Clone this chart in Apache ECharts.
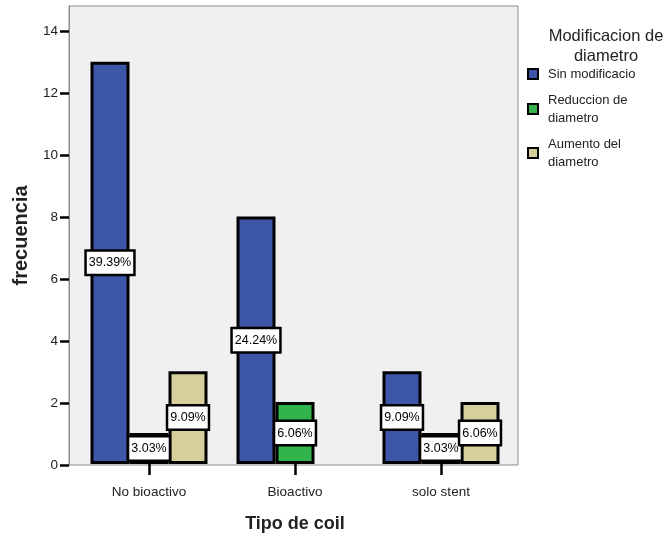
<!DOCTYPE html>
<html>
<head>
<meta charset="utf-8">
<script src="https://cdn.jsdelivr.net/npm/echarts@6/dist/echarts.min.js"></script>
<style>html,body{margin:0;padding:0;background:#fff}#c{width:665px;height:538px}</style>
</head>
<body>
<div id="c"></div>
<script>
var categories = ['No bioactivo', 'Bioactivo', 'solo stent'];
var seriesNames = ['Sin modificacio', 'Reduccion de\ndiametro', 'Aumento del\ndiametro'];
var sinModificacio = [13, 8, 3];
var reduccion = [1, 2, 1];
var aumento = [3, 0, 2];
var sinPct = ['39.39%', '24.24%', '9.09%'];
var reduccionPct = ['3.03%', '6.06%', '3.03%'];
var aumentoPct = ['9.09%', '', '6.06%'];
var yTicks = [0, 2, 4, 6, 8, 10, 12, 14];
var yMax = 14.8;

var colors = ['#3e56a8', '#30b44b', '#d6cf9c'];
var font = 'Liberation Sans, Arial, sans-serif';

function mk(name, vals, pcts, color) {
  return {
    name: name,
    type: 'bar',
    xAxisIndex: 1,
    yAxisIndex: 1,
    barWidth: 39,
    barGap: '0%',
    data: vals.map(function (v) { return v === 0 ? '-' : v; }),
    itemStyle: { color: color, borderColor: '#000', borderWidth: 3 },
    label: {
      show: true,
      position: 'inside',
      formatter: function (p) { return pcts[p.dataIndex]; },
      backgroundColor: '#fff',
      borderColor: '#000',
      borderWidth: 2.5,
      padding: [5, 2, 4, 2],
      fontSize: 12.5,
      fontFamily: font,
      color: '#000'
    }
  };
}

var chart = echarts.init(document.getElementById('c'));
chart.setOption({
  animation: false,
  backgroundColor: '#fff',
  title: {
    text: 'Modificacion de\ndiametro',
    left: 601,
    textAlign: 'center',
    top: 21,
    textStyle: { fontSize: 16.5, fontWeight: 'normal', lineHeight: 20, color: '#222', fontFamily: font }
  },
  legend: {
    orient: 'vertical',
    left: 522,
    top: 60,
    itemWidth: 10,
    itemHeight: 10,
    itemGap: 8,
    icon: 'rect',
    data: seriesNames,
    textStyle: { fontSize: 13, lineHeight: 18, color: '#222', fontFamily: font, padding: [0, 0, 0, 5] }
  },
  grid: [
    { left: 69, right: 147, top: 6, bottom: 73, show: true, backgroundColor: '#f0f0f0', borderColor: '#8c8c8c', borderWidth: 1 },
    { left: 76, right: 151, top: 6, bottom: 73 }
  ],
  xAxis: [
    { type: 'value', gridIndex: 0, show: false, min: 0, max: 1 },
    {
      type: 'category', gridIndex: 1, data: categories,
      axisLine: { show: false },
      axisTick: { show: true, alignWithLabel: true, length: 11, lineStyle: { color: '#000', width: 2.5 } },
      axisLabel: { fontSize: 13.5, color: '#222', margin: 21, fontFamily: font },
      name: 'Tipo de coil', nameLocation: 'middle', nameGap: 51,
      nameTextStyle: { fontSize: 18, fontWeight: 'bold', color: '#222', fontFamily: font }
    }
  ],
  yAxis: [
    {
      type: 'value', gridIndex: 0, min: 0, max: yMax,
      axisLine: { show: true, lineStyle: { color: '#8c8c8c', width: 1 } },
      axisTick: { show: true, length: 9, customValues: yTicks, lineStyle: { color: '#000', width: 2.5 } },
      axisLabel: { fontSize: 13.5, color: '#222', margin: 11, customValues: yTicks, fontFamily: font },
      splitLine: { show: false },
      name: 'frecuencia', nameLocation: 'middle', nameRotate: 90, nameGap: 38,
      nameTextStyle: { fontSize: 20, fontWeight: 'bold', color: '#222', fontFamily: font }
    },
    { type: 'value', gridIndex: 1, min: 0, max: yMax, show: false, splitLine: { show: false } }
  ],
  series: [
    mk(seriesNames[0], sinModificacio, sinPct, colors[0]),
    mk(seriesNames[1], reduccion, reduccionPct, colors[1]),
    mk(seriesNames[2], aumento, aumentoPct, colors[2])
  ]
});
</script>
</body>
</html>
